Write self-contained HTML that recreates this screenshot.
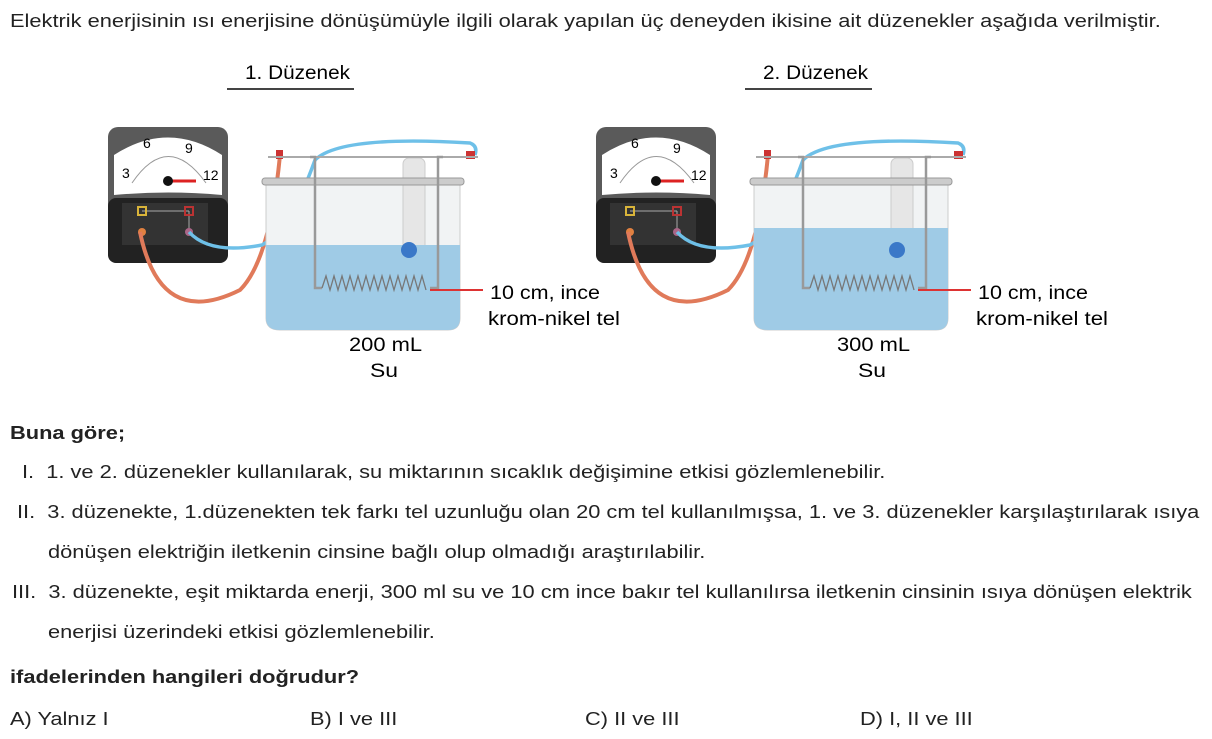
<!DOCTYPE html>
<html><head><meta charset="utf-8"><style>
body{margin:0;width:1212px;height:739px;background:#fff;font-family:"Liberation Sans",sans-serif;color:#222;position:relative;overflow:hidden}
.t{position:absolute;font-size:18px;white-space:nowrap;transform:scaleX(1.212);transform-origin:0 0}
b{font-weight:bold}
</style></head><body>
<svg width="1212" height="739" style="position:absolute;left:0;top:0" font-family="Liberation Sans, sans-serif">
<defs>
<g id="meter">
<rect x="108" y="127" width="120" height="136" rx="10" fill="#5a5a5a"/>
<rect x="108" y="198" width="120" height="65" rx="8" fill="#222"/>
<rect x="122" y="203" width="86" height="42" fill="#333"/>
<path d="M114 195 L114 155 Q168 120 222 155 L222 195 Q168 190 114 195Z" fill="#fff"/>
<path d="M132 183 Q168 130 206 183" stroke="#999" fill="none"/>
<text x="122" y="178" font-size="14">3</text><text x="143" y="148" font-size="14">6</text>
<text x="185" y="153" font-size="14">9</text><text x="203" y="180" font-size="14">12</text>
<line x1="168" y1="181" x2="196" y2="181" stroke="#d22" stroke-width="3"/>
<circle cx="168" cy="181" r="5" fill="#111"/>
<line x1="142" y1="211" x2="189" y2="211" stroke="#aaa"/>
<line x1="189" y1="211" x2="189" y2="231" stroke="#aaa"/>
<rect x="138" y="207" width="8" height="8" fill="none" stroke="#d9b43a" stroke-width="2"/>
<rect x="185" y="207" width="8" height="8" fill="none" stroke="#b33" stroke-width="2"/>
<circle cx="142" cy="232" r="4" fill="#e08040"/><circle cx="189" cy="232" r="4" fill="#aa6688"/>
</g>
<g id="parts">
<path d="M140 232 Q160 330 240 290 Q270 260 280 155" stroke="#e07a5a" stroke-width="4" fill="none"/>
<path d="M189 232 Q210 255 262 245 Q290 230 315 160 Q340 135 470 143 Q478 146 475 155" stroke="#6ec0e8" stroke-width="3.5" fill="none"/>
<rect x="276" y="150" width="7" height="9" fill="#c33"/><rect x="466" y="151" width="9" height="8" fill="#c33"/>
</g>
<g id="top">
<circle cx="409" cy="250" r="8" fill="#3a78c8"/>
<rect x="262" y="178" width="202" height="7" rx="3" fill="#ccc" stroke="#999"/>
<line x1="268" y1="157" x2="478" y2="157" stroke="#aaa" stroke-width="2"/>
<path d="M310 157 L315 157 L315 288 L322 288" stroke="#999" stroke-width="2.5" fill="none"/>
<path d="M443 157 L438 157 L438 288 L430 288" stroke="#999" stroke-width="2.5" fill="none"/>
<path d="M322 288 l4 -12 l4 14 l4 -14 l4 14 l4 -14 l4 14 l4 -14 l4 14 l4 -14 l4 14 l4 -14 l4 14 l4 -14 l4 14 l4 -14 l4 14 l4 -14 l4 14 l4 -14 l4 14 l4 -14 l4 14 l4 -14 l4 14 l4 -14 l4 14" stroke="#777" stroke-width="1.3" fill="none"/>
<line x1="430" y1="290" x2="483" y2="290" stroke="#d33" stroke-width="2"/>
<text x="490" y="299" font-size="19" textLength="110" lengthAdjust="spacingAndGlyphs">10 cm, ince</text>
<text x="488" y="325" font-size="19" textLength="132" lengthAdjust="spacingAndGlyphs">krom-nikel tel</text>
<text x="370" y="377" font-size="19" textLength="28" lengthAdjust="spacingAndGlyphs">Su</text>
</g>
</defs>
<g><use href="#meter"/><use href="#parts"/>
<path d="M266 183 L266 318 Q266 330 280 330 L448 330 Q460 330 460 318 L460 183Z" fill="#f1f3f4" stroke="#ccc"/>
<rect x="403" y="158" width="22" height="130" rx="6" fill="#e6e6e6" stroke="#ccc"/>
<path d="M266 245 L460 245 L460 318 Q460 330 448 330 L280 330 Q266 330 266 318Z" fill="#9fcbe6"/>
<use href="#top"/>
<text x="349" y="351" font-size="19" textLength="73" lengthAdjust="spacingAndGlyphs">200 mL</text>
<text x="245" y="79" font-size="19" textLength="105" lengthAdjust="spacingAndGlyphs">1. Düzenek</text><line x1="227" y1="89" x2="354" y2="89" stroke="#444" stroke-width="2"/>
</g>
<g transform="translate(488,0)"><use href="#meter"/><use href="#parts"/>
<path d="M266 183 L266 318 Q266 330 280 330 L448 330 Q460 330 460 318 L460 183Z" fill="#f1f3f4" stroke="#ccc"/>
<rect x="403" y="158" width="22" height="130" rx="6" fill="#e6e6e6" stroke="#ccc"/>
<path d="M266 228 L460 228 L460 318 Q460 330 448 330 L280 330 Q266 330 266 318Z" fill="#9fcbe6"/>
<use href="#top"/>
<text x="349" y="351" font-size="19" textLength="73" lengthAdjust="spacingAndGlyphs">300 mL</text>
<text x="275" y="79" font-size="19" textLength="105" lengthAdjust="spacingAndGlyphs">2. Düzenek</text><line x1="257" y1="89" x2="384" y2="89" stroke="#444" stroke-width="2"/>
</g>
</svg>
<div class="t" style="left:10px;top:11px">Elektrik enerjisinin ısı enerjisine dönüşümüyle ilgili olarak yapılan üç deneyden ikisine ait düzenekler aşağıda verilmiştir.</div>
<div class="t" style="left:10px;top:423px"><b>Buna göre;</b></div>
<div class="t" style="left:22px;top:462px">I.&nbsp; 1. ve 2. düzenekler kullanılarak, su miktarının sıcaklık değişimine etkisi gözlemlenebilir.</div>
<div class="t" style="left:17px;top:502px">II.&nbsp; 3. düzenekte, 1.düzenekten tek farkı tel uzunluğu olan 20 cm tel kullanılmışsa, 1. ve 3. düzenekler karşılaştırılarak ısıya</div>
<div class="t" style="left:48px;top:542px">dönüşen elektriğin iletkenin cinsine bağlı olup olmadığı araştırılabilir.</div>
<div class="t" style="left:12px;top:582px">III.&nbsp; 3. düzenekte, eşit miktarda enerji, 300 ml su ve 10 cm ince bakır tel kullanılırsa iletkenin cinsinin ısıya dönüşen elektrik</div>
<div class="t" style="left:48px;top:622px">enerjisi üzerindeki etkisi gözlemlenebilir.</div>
<div class="t" style="left:10px;top:667px"><b>ifadelerinden hangileri doğrudur?</b></div>
<div class="t" style="left:10px;top:709px">A) Yalnız I</div>
<div class="t" style="left:310px;top:709px">B) I ve III</div>
<div class="t" style="left:585px;top:709px">C) II ve III</div>
<div class="t" style="left:860px;top:709px">D) I, II ve III</div>
</body></html>
